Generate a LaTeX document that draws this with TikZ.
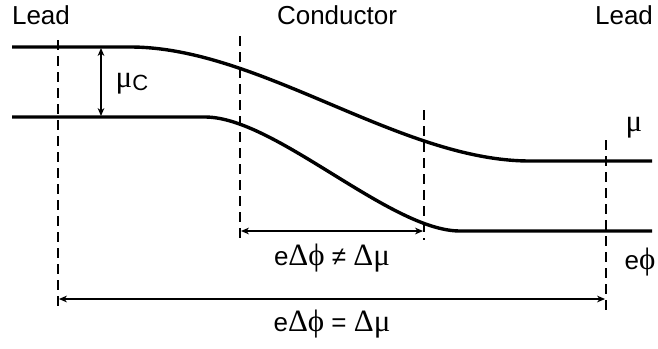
\documentclass[tikz,border=0pt]{standalone}
\usepackage{fontspec}
\setmainfont{Liberation Sans}
\newfontfamily\greekfont{Liberation Serif}
\usepackage{tikz}
\usetikzlibrary{arrows.meta}
\newcommand{\gk}[1]{{\greekfont\fontsize{15.5}{17}\selectfont #1}}

\begin{document}
\begin{tikzpicture}[x=0.5pt,y=-0.5pt,
  lbl/.style={font=\fontsize{13}{15}\selectfont,inner sep=0pt},
  curve/.style={line width=1.7pt},
  dsh/.style={line width=0.6pt,dash pattern=on 5pt off 3pt},
  ar/.style={{Stealth[length=4pt,width=3.4pt]}-{Stealth[length=4pt,width=3.4pt]},line width=0.55pt}]
\useasboundingbox (0,0) rectangle (658,348);
% region titles
\node[lbl] (ll) at (41,15)  {Lead};
\node[lbl] (cd) at (337,15) {Conductor};
\node[lbl] (lr) at (624,15) {Lead};
% potential curves
\draw[curve] (12,47) -- (130,47) .. controls (260,47) and (400,161) .. (530,161) -- (652,161);
\draw[curve] (12,117) -- (205,117) .. controls (275,117) and (390,231) .. (460,231) -- (652,231);
% boundaries
\coordinate (a1) at (58,40);  \coordinate (a2) at (58,310);
\coordinate (b1) at (240,36); \coordinate (b2) at (240,240);
\coordinate (c1) at (424,110);\coordinate (c2) at (424,240);
\coordinate (d1) at (606,140);\coordinate (d2) at (606,310);
\draw[dsh] (a1) -- (a2); \draw[dsh] (b1) -- (b2);
\draw[dsh] (c1) -- (c2); \draw[dsh] (d1) -- (d2);
% differences
\coordinate (mt) at (101,48);  \coordinate (mb) at (101,116);
\coordinate (pl) at (241,231); \coordinate (pr) at (423,231);
\coordinate (ql) at (59,299);  \coordinate (qr) at (605,299);
\draw[ar] (mt) -- (mb);
\draw[ar] (pl) -- (pr);
\draw[ar] (ql) -- (qr);
\node[lbl] (muc) at (132,84) {\gk{μ}\raisebox{-1.5pt}{\fontsize{11}{12}\selectfont C}};
\node[lbl] (mu)  at (634,128) {\gk{μ}};
\node[lbl] (ephi) at (640,262) {e\gk{ϕ}};
\node[lbl] (neq) at (332,258) {e\gk{Δϕ} ≠ \gk{Δμ}};
\node[lbl] (eq)  at (332,324) {e\gk{Δϕ} = \gk{Δμ}};
\end{tikzpicture}
\end{document}
